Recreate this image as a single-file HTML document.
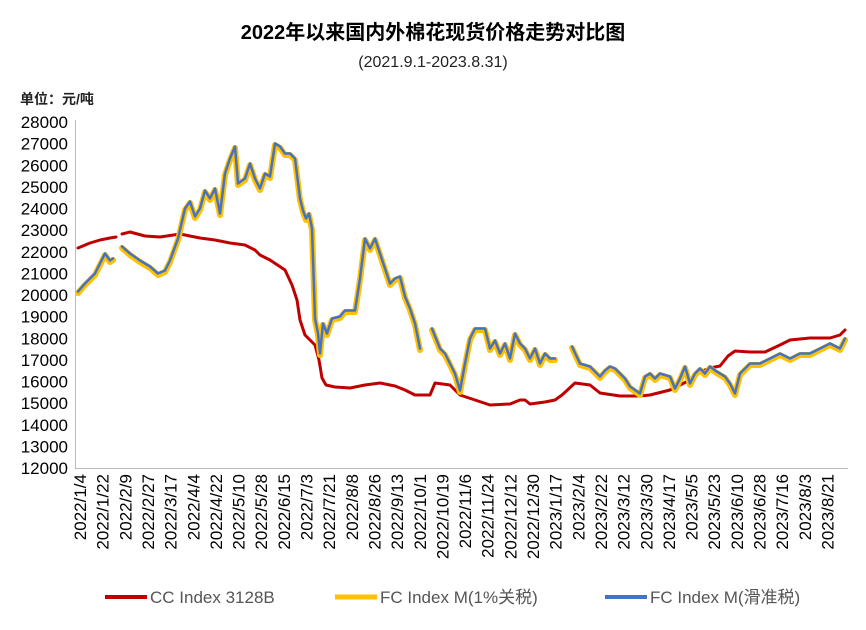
<!DOCTYPE html>
<html><head><meta charset="utf-8"><style>
body{margin:0;background:#fff;}
svg text{font-family:"Liberation Sans","Noto Sans CJK SC",sans-serif;}
</style></head><body>
<svg width="866" height="625" viewBox="0 0 866 625" xmlns="http://www.w3.org/2000/svg">
<rect width="866" height="625" fill="#fff"/>
<text x="433" y="39" text-anchor="middle" font-size="20" font-weight="bold" fill="#000">2022年以来国内外棉花现货价格走势对比图</text>
<text x="433" y="67" text-anchor="middle" font-size="16" fill="#222">(2021.9.1-2023.8.31)</text>
<text x="20" y="104" font-size="14" font-weight="bold" fill="#222">单位：元/吨</text>
<g font-size="17" fill="#000" text-anchor="end" id="yl"></g>
<line x1="75.5" y1="120" x2="75.5" y2="468" stroke="#bbb"/>
<line x1="75" y1="468.5" x2="848" y2="468.5" stroke="#bbb"/>
<g id="xl" font-size="17" fill="#000"></g>
<g fill="none" stroke-linejoin="round" stroke-linecap="round">
<polyline id="cc1" stroke="#C00000" stroke-width="3"/>
<polyline id="cc2" stroke="#C00000" stroke-width="3"/>
<g id="fc"></g>
</g>
<line x1="105" y1="597" x2="147" y2="597" stroke="#C00000" stroke-width="4"/>
<text x="150" y="603" font-size="17" fill="#555">CC Index 3128B</text>
<line x1="335" y1="597" x2="377" y2="597" stroke="#FFC000" stroke-width="5"/>
<text x="380" y="603" font-size="17" fill="#555">FC Index M(1%关税)</text>
<line x1="605" y1="597" x2="647" y2="597" stroke="#4472C4" stroke-width="4"/>
<text x="650" y="603" font-size="17" fill="#555">FC Index M(滑准税)</text>
</svg>
<script>
var ns="http://www.w3.org/2000/svg";
function el(t,a,p){var e=document.createElementNS(ns,t);for(var k in a)e.setAttribute(k,a[k]);p.appendChild(e);return e;}
var yl=document.getElementById('yl');
for(var v=12000;v<=28000;v+=1000){var y=468-(v-12000)/1000*21.625;var t=el('text',{x:68,y:y+6},yl);t.textContent=v;}
var labs="2022/1/4,2022/1/22,2022/2/9,2022/2/27,2022/3/17,2022/4/4,2022/4/22,2022/5/10,2022/5/28,2022/6/15,2022/7/3,2022/7/21,2022/8/8,2022/8/26,2022/9/13,2022/10/1,2022/10/19,2022/11/6,2022/11/24,2022/12/12,2022/12/30,2023/1/17,2023/2/4,2023/2/22,2023/3/12,2023/3/30,2023/4/17,2023/5/5,2023/5/23,2023/6/10,2023/6/28,2023/7/16,2023/8/3,2023/8/21".split(',');
var xl=document.getElementById('xl');
labs.forEach(function(s,i){var x=86+i*22.65;var t=el('text',{x:0,y:0,'text-anchor':'end',transform:'translate('+x+',474) rotate(-90)'},xl);t.textContent=s;});
document.getElementById('cc1').setAttribute('points',"78,248 90,243 100,240 110,238 116,237");
document.getElementById('cc2').setAttribute('points',"122,234 130,232 145,236 160,237 180,234 200,238 215,240 230,243 245,245 255,250 260,255 270,260 285,270 292,285 297,300 300,320 305,335 315,345 319,360 322,378 326,385 335,387 350,388 365,385 380,383 395,386 405,390 415,395 430,395 435,383 450,385 460,395 475,400 490,405 510,404 520,400 525,400 530,404 545,402 555,400 562,395 575,383 590,385 600,393 620,396 640,396 650,395 670,390 690,380 700,372 710,368 720,366 728,356 735,351 750,352 765,352 780,345 790,340 810,338 830,338 840,335 845,330");
var fcs=["78,293 85,285 95,275 100,265 105,255 110,262 113,260",
"122,248 130,255 140,262 150,268 158,275 165,272 170,262 178,240 185,210 190,203 195,218 200,210 205,192 210,200 215,190 220,215 225,175 230,160 235,148 238,185 245,180 250,165 255,180 260,190 265,175 270,178 275,145 280,148 285,155 290,155 295,160 300,200 303,212 306,220 309,215 312,230 315,320 318,335 320,355 323,325 327,335 332,320 340,318 345,312 355,312 360,280 365,240 370,250 375,240 380,255 385,270 390,285 395,280 400,278 405,298 410,310 415,325 420,350",
"432,330 440,350 445,355 450,365 455,375 460,392 465,365 470,340 475,330 485,330 490,350 495,342 500,355 505,345 510,360 515,335 520,345 525,350 530,360 535,350 540,365 545,355 550,360 555,360",
"572,348 580,365 590,368 600,378 605,372 610,368 615,370 620,375 625,380 630,388 640,395 645,378 650,375 655,380 660,375 670,378 675,390 680,380 685,368 690,385 695,375 700,370 705,375 710,368 715,372 720,375 725,378 730,385 735,395 740,375 750,365 760,365 770,360 780,355 790,360 800,355 810,355 820,350 830,345 840,350 845,340"];
var fc=document.getElementById('fc');
fcs.forEach(function(p){el('polyline',{points:p,stroke:'#FFC000','stroke-width':6},fc);});
fcs.forEach(function(p){el('polyline',{points:p,stroke:'#4472C4','stroke-width':2.5,transform:'translate(0,-1.5)'},fc);});
</script>
</body></html>
